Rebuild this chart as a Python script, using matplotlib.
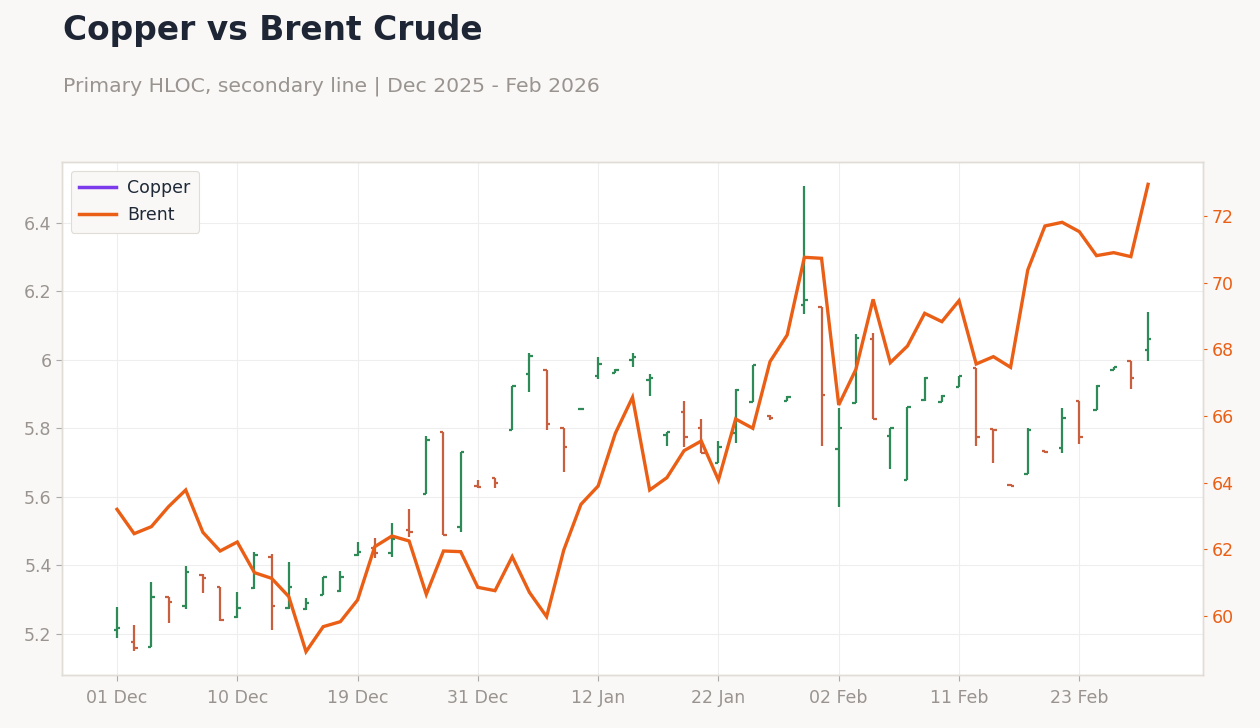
import matplotlib
matplotlib.use("Agg")
import matplotlib.pyplot as plt
from matplotlib.ticker import FuncFormatter, FixedLocator
from matplotlib.lines import Line2D
import numpy as np
import pandas as pd

# ---- data ----
dates = pd.to_datetime([
    "2025-12-01", "2025-12-02", "2025-12-03", "2025-12-04", "2025-12-05",
    "2025-12-08", "2025-12-09", "2025-12-10", "2025-12-11", "2025-12-12",
    "2025-12-15", "2025-12-16", "2025-12-17", "2025-12-18", "2025-12-19",
    "2025-12-22", "2025-12-23", "2025-12-24", "2025-12-26",
    "2025-12-29", "2025-12-30", "2025-12-31", "2026-01-02",
    "2026-01-05", "2026-01-06", "2026-01-07", "2026-01-08", "2026-01-09",
    "2026-01-12", "2026-01-13", "2026-01-14", "2026-01-15", "2026-01-16",
    "2026-01-20", "2026-01-21", "2026-01-22", "2026-01-23",
    "2026-01-26", "2026-01-27", "2026-01-28", "2026-01-29", "2026-01-30",
    "2026-02-02", "2026-02-03", "2026-02-04", "2026-02-05", "2026-02-06",
    "2026-02-09", "2026-02-10", "2026-02-11", "2026-02-12", "2026-02-13",
    "2026-02-17", "2026-02-18", "2026-02-19", "2026-02-20",
    "2026-02-23", "2026-02-24", "2026-02-25", "2026-02-26", "2026-02-27",
])

copper_open = [5.210, 5.175, 5.163, 5.309, 5.282, 5.373, 5.338, 5.248, 5.333, 5.426,
               5.276, 5.273, 5.314, 5.325, 5.431, 5.450, 5.437, 5.502, 5.609, 5.791,
               5.513, 5.632, 5.655, 5.796, 5.960, 5.970, 5.800, 5.857, 5.954, 5.963,
               6.000, 5.940, 5.781, 5.849, 5.802, 5.700, 5.786, 5.878, 5.835, 5.881,
               6.159, 6.156, 5.741, 5.875, 6.061, 5.778, 5.650, 5.882, 5.877, 5.922,
               5.976, 5.798, 5.636, 5.667, 5.735, 5.744, 5.881, 5.854, 5.971, 5.996,
               6.029]
copper_high = [5.278, 5.225, 5.351, 5.309, 5.399, 5.375, 5.338, 5.322, 5.439, 5.434,
               5.409, 5.304, 5.366, 5.385, 5.468, 5.479, 5.523, 5.564, 5.779, 5.791,
               5.732, 5.650, 5.656, 5.925, 6.020, 5.971, 5.800, 5.859, 6.010, 5.973,
               6.020, 5.958, 5.791, 5.880, 5.828, 5.762, 5.914, 5.985, 5.839, 5.895,
               6.508, 6.156, 5.859, 6.075, 6.078, 5.802, 5.864, 5.951, 5.898, 5.953,
               5.976, 5.798, 5.637, 5.800, 5.735, 5.859, 5.881, 5.927, 5.980, 5.997,
               6.139]
copper_low = [5.187, 5.150, 5.163, 5.233, 5.272, 5.319, 5.238, 5.246, 5.330, 5.212,
              5.272, 5.270, 5.314, 5.323, 5.428, 5.421, 5.424, 5.484, 5.609, 5.489,
              5.499, 5.625, 5.625, 5.796, 5.905, 5.796, 5.674, 5.856, 5.944, 5.963,
              5.980, 5.896, 5.750, 5.747, 5.728, 5.698, 5.757, 5.878, 5.825, 5.881,
              6.133, 5.749, 5.570, 5.874, 5.827, 5.681, 5.650, 5.881, 5.876, 5.922,
              5.749, 5.700, 5.632, 5.667, 5.728, 5.729, 5.754, 5.854, 5.971, 5.915,
              5.998]
copper_close = [5.218, 5.160, 5.309, 5.293, 5.382, 5.364, 5.240, 5.277, 5.429, 5.282,
                5.338, 5.290, 5.365, 5.367, 5.440, 5.437, 5.476, 5.498, 5.766, 5.490,
                5.730, 5.630, 5.642, 5.925, 6.012, 5.812, 5.747, 5.858, 5.987, 5.972,
                6.010, 5.948, 5.790, 5.774, 5.729, 5.745, 5.912, 5.985, 5.830, 5.893,
                6.175, 5.898, 5.802, 6.063, 5.827, 5.800, 5.863, 5.947, 5.895, 5.952,
                5.774, 5.794, 5.633, 5.794, 5.731, 5.831, 5.774, 5.924, 5.979, 5.948,
                6.061]
brent = [63.20, 62.47, 62.68, 63.28, 63.78, 62.51, 61.95, 62.22, 61.30, 61.13,
         60.58, 58.93, 59.68, 59.83, 60.48, 62.08, 62.40, 62.25, 60.65, 61.95,
         61.93, 60.86, 60.76, 61.78, 60.71, 59.98, 61.98, 63.35, 63.90, 65.48,
         66.56, 63.78, 64.15, 64.96, 65.25, 64.08, 65.91, 65.63, 67.63, 68.43,
         70.76, 70.73, 66.33, 67.40, 69.50, 67.60, 68.10, 69.08, 68.83, 69.46,
         67.56, 67.78, 67.46, 70.38, 71.70, 71.81, 71.53, 70.81, 70.90, 70.78,
         72.95]

left_ticks = [5.2, 5.4, 5.6, 5.8, 6.0, 6.2, 6.4]
right_ticks = [60, 62, 64, 66, 68, 70, 72]
tick_step = 7

# ---- style ----
BG = "#f9f8f6"
UP = "#2e8b57"
DOWN = "#c8603f"
BRENT_C = "#ea5f15"
COPPER_C = "#7c3aed"
GRID = "#eeeeee"
TXT_GRAY = "#999490"

plt.rcParams['font.family'] = ['DejaVu Sans']

fig = plt.figure(figsize=(12.6, 7.28), dpi=100, facecolor=BG)
ax = fig.add_axes([0.0492, 0.0728, 0.9056, 0.7047])
ax.set_facecolor("white")

x = np.arange(len(dates))
o = np.array(copper_open); h = np.array(copper_high)
l = np.array(copper_low); c = np.array(copper_close)
colors = np.where(c >= o, UP, DOWN)
tw = 0.2
ax.vlines(x, l, h, colors=colors, lw=1.6, zorder=3)
ax.hlines(o, x - tw, x, colors=colors, lw=1.6, zorder=3)
ax.hlines(c, x, x + tw, colors=colors, lw=1.6, zorder=3)

ax.set_xlim(-3.2, len(x) - 1 + 3.2)
ax.set_ylim(5.08, 6.578)
ax.yaxis.set_major_locator(FixedLocator(left_ticks))
ax.yaxis.set_major_formatter(FuncFormatter(lambda v, p: f"{v:g}"))
xt = x[::tick_step]
ax.set_xticks(xt)
ax.set_xticklabels([d.strftime("%d %b") for d in dates[xt]])
ax.grid(True, color=GRID, lw=0.8, zorder=0)
ax.set_axisbelow(True)
ax.tick_params(axis="both", colors="#aaaaaa", labelcolor=TXT_GRAY, labelsize=12.5, length=4, width=0.8)
ax.tick_params(axis="x", pad=6)
for s in ax.spines.values():
    s.set_color("#e0dcd6")
    s.set_linewidth(1.0)

ax2 = ax.twinx()
ax2.patch.set_visible(False)
ax2.plot(x, brent, color=BRENT_C, lw=2.4, zorder=4, solid_joinstyle="miter")
ax2.set_ylim(58.23, 73.62)
ax2.yaxis.set_major_locator(FixedLocator(right_ticks))
ax2.tick_params(axis="y", colors=BRENT_C, labelcolor=BRENT_C, labelsize=12.5, length=3, width=0.8)
for s in ax2.spines.values():
    s.set_color("#e0dcd6")
    s.set_linewidth(1.0)

handles = [Line2D([0], [0], color=COPPER_C, lw=2.5), Line2D([0], [0], color=BRENT_C, lw=2.5)]
leg = ax2.legend(handles, ["Copper", "Brent"], loc="upper left", fontsize=12.5,
                 frameon=True, facecolor=BG, edgecolor="#e0dcd6", framealpha=1.0,
                 borderpad=0.5, handlelength=2.1, handletextpad=0.65)
leg.get_frame().set_linewidth(0.8)
leg.set_zorder(10)
for t in leg.get_texts():
    t.set_color("#1f2937")

fig.text(0.05, 0.958, "Copper vs Brent Crude", fontsize=23.7, fontweight="bold",
         color="#1e2535", ha="left", va="center")
fig.text(0.05, 0.882, "Primary HLOC, secondary line | Dec 2025 - Feb 2026", fontsize=14.65,
         color=TXT_GRAY, ha="left", va="center")

fig.savefig("out.png", dpi=100, facecolor=BG)
